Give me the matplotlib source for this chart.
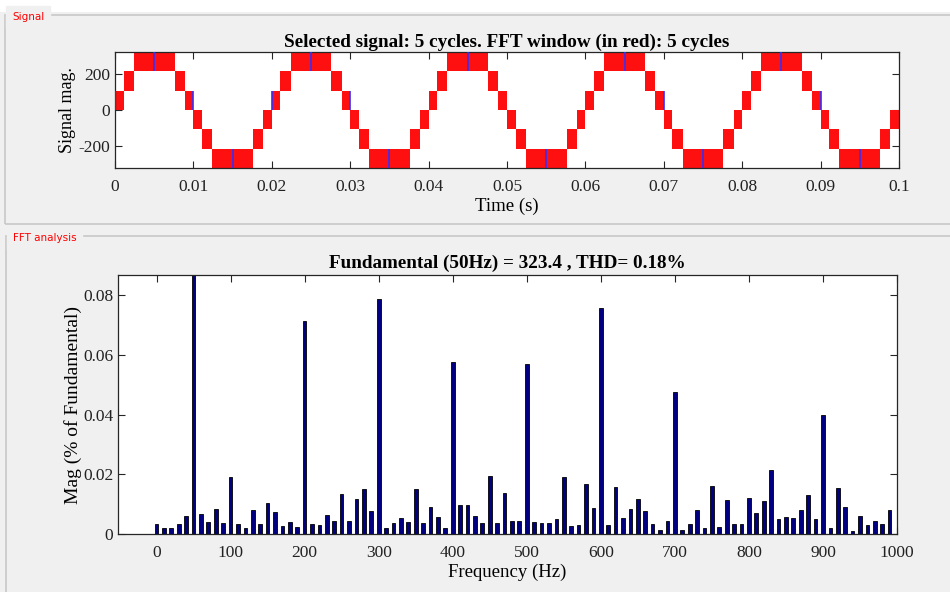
import numpy as np
import matplotlib
matplotlib.use('Agg')
import matplotlib.pyplot as plt
from matplotlib.patches import Rectangle

# ---- data ----
# one cycle of the multilevel PWM signal: (t_start, t_end, low level, high level), level in steps
cycle_bands = [
    (0.0000, 0.0011, 0, 1), (0.0011, 0.0024, 1, 2), (0.0024, 0.0076, 2, 3),
    (0.0076, 0.0089, 1, 2), (0.0089, 0.0100, 0, 1),
    (0.0100, 0.0111, -1, 0), (0.0111, 0.0124, -2, -1), (0.0124, 0.0176, -3, -2),
    (0.0176, 0.0189, -2, -1), (0.0189, 0.0200, -1, 0),
]
cycle_starts = [0.0, 0.02, 0.04, 0.06, 0.08]
level_step = 106.0
# where the blue (selected signal) shows through: (time, low level, high level)
blue_marks = [(0.000, 0, 1), (0.005, 2, 3), (0.010, 0, 1), (0.015, -3, -2),
              (0.020, 0, 1), (0.025, 2, 3), (0.030, 0, 1), (0.035, -3, -2),
              (0.045, 2, 3), (0.055, -3, -2), (0.065, 2, 3), (0.070, 0, 1),
              (0.075, -3, -2), (0.085, 2, 3), (0.090, 0, 1), (0.095, -3, -2)]

freqs = np.arange(0, 1000, 10)
mags = [0.0035, 0.0019, 0.0019, 0.0033, 0.0060, 100.0, 0.0068, 0.0041, 0.0083, 0.0036,
        0.0190, 0.0033, 0.0020, 0.0079, 0.0033, 0.0103, 0.0072, 0.0026, 0.0040, 0.0023,
        0.0712, 0.0033, 0.0030, 0.0062, 0.0044, 0.0134, 0.0044, 0.0118, 0.0152, 0.0078,
        0.0786, 0.0021, 0.0036, 0.0054, 0.0040, 0.0149, 0.0036, 0.0092, 0.0058, 0.0020,
        0.0575, 0.0096, 0.0096, 0.0060, 0.0036, 0.0195, 0.0036, 0.0138, 0.0044, 0.0044,
        0.0569, 0.0040, 0.0036, 0.0036, 0.0051, 0.0190, 0.0026, 0.0030, 0.0166, 0.0086,
        0.0758, 0.0029, 0.0158, 0.0054, 0.0083, 0.0117, 0.0078, 0.0033, 0.0015, 0.0043,
        0.0474, 0.0015, 0.0032, 0.0081, 0.0019, 0.0162, 0.0025, 0.0113, 0.0032, 0.0035,
        0.0120, 0.0070, 0.0110, 0.0215, 0.0051, 0.0056, 0.0053, 0.0081, 0.0130, 0.0051,
        0.0400, 0.0021, 0.0154, 0.0090, 0.0011, 0.0060, 0.0029, 0.0043, 0.0032, 0.0081]

top_title = 'Selected signal: 5 cycles. FFT window (in red): 5 cycles'
bot_title = 'Fundamental (50Hz) = 323.4 , THD= 0.18%'

plt.rcParams['font.family'] = ['Liberation Serif', 'DejaVu Serif']
bg = '#f0f0f0'
tick_col = '#262626'

fig = plt.figure(figsize=(9.5, 5.92), dpi=100, facecolor=bg)

# group-box panels like the MATLAB powergui window
fig.patches.append(Rectangle((0, 1 - 12/592), 1, 12/592, transform=fig.transFigure,
                             facecolor='white', edgecolor='none', zorder=0))
fig.patches.append(Rectangle((5/950, 1 - 224/592), 950/950, 209/592, transform=fig.transFigure,
                             facecolor='none', edgecolor='#c8c8c8', lw=1.2, zorder=1))
fig.patches.append(Rectangle((6/950, -0.01), 950/950, (592 - 236)/592 + 0.01, transform=fig.transFigure,
                             facecolor='none', edgecolor='#c8c8c8', lw=1.2, zorder=1))
fig.text(12/950, 1 - 17/592, 'Signal', color='red', fontsize=7.5, family='DejaVu Sans',
         va='center', ha='left', backgroundcolor=bg)
fig.text(13/950, 1 - 238/592, 'FFT analysis', color='red', fontsize=7.5, family='DejaVu Sans',
         va='center', ha='left', backgroundcolor=bg)

def style_axes(ax):
    ax.set_facecolor('white')
    for s in ax.spines.values():
        s.set_color(tick_col)
        s.set_linewidth(0.9)
    ax.tick_params(direction='in', top=True, right=True, colors=tick_col,
                   labelcolor='#222222', labelsize=12.5, length=5, width=0.8)

# ---- signal panel ----
ax1 = fig.add_axes([115/950, 1 - 168/592, 784/950, 116/592])
style_axes(ax1)
for c0 in cycle_starts:
    for t0, t1, lo, hi in cycle_bands:
        ax1.bar(c0 + t0, (hi - lo) * level_step, width=t1 - t0, bottom=lo * level_step,
                align='edge', color='#ff1010', edgecolor='none', zorder=2)
for t, lo, hi in blue_marks:
    ax1.vlines(t, lo * level_step, hi * level_step, color='#3030ff', lw=1.2, zorder=3)
ax1.set_xlim(0, 0.1)
ax1.set_ylim(-3 * level_step, 3 * level_step)
ax1.set_xticks(np.arange(0, 0.1001, 0.01))
ax1.set_xticklabels(['0', '0.01', '0.02', '0.03', '0.04', '0.05', '0.06', '0.07', '0.08', '0.09', '0.1'])
ax1.set_yticks([-200, 0, 200])
ax1.set_yticklabels(['-200', '0', '200'])
ax1.tick_params(axis='x', pad=8)
ax1.set_title(top_title, fontsize=13.8, fontweight='bold', pad=4)
ax1.set_xlabel('Time (s)', fontsize=13.5, labelpad=2)
ax1.set_ylabel('Signal mag.', fontsize=13, labelpad=2)

# ---- FFT panel ----
ax2 = fig.add_axes([118/950, 1 - 534/592, 779/950, 259/592])
style_axes(ax2)
ax2.bar(freqs, mags, width=5, color='#000080', edgecolor='black', lw=0.6, zorder=2)
ax2.set_xlim(-52, 1000)
ax2.set_ylim(0, 0.0867)
ax2.set_xticks(np.arange(0, 1001, 100))
ax2.set_yticks([0, 0.02, 0.04, 0.06, 0.08])
ax2.set_yticklabels(['0', '0.02', '0.04', '0.06', '0.08'])
ax2.tick_params(axis='x', pad=8)
ax2.set_title(bot_title, fontsize=13.8, fontweight='bold', pad=5)
ax2.set_xlabel('Frequency (Hz)', fontsize=13.5, labelpad=2)
ax2.set_ylabel('Mag (% of Fundamental)', fontsize=14, labelpad=1)

fig.savefig('out.png', dpi=100, facecolor=bg)
